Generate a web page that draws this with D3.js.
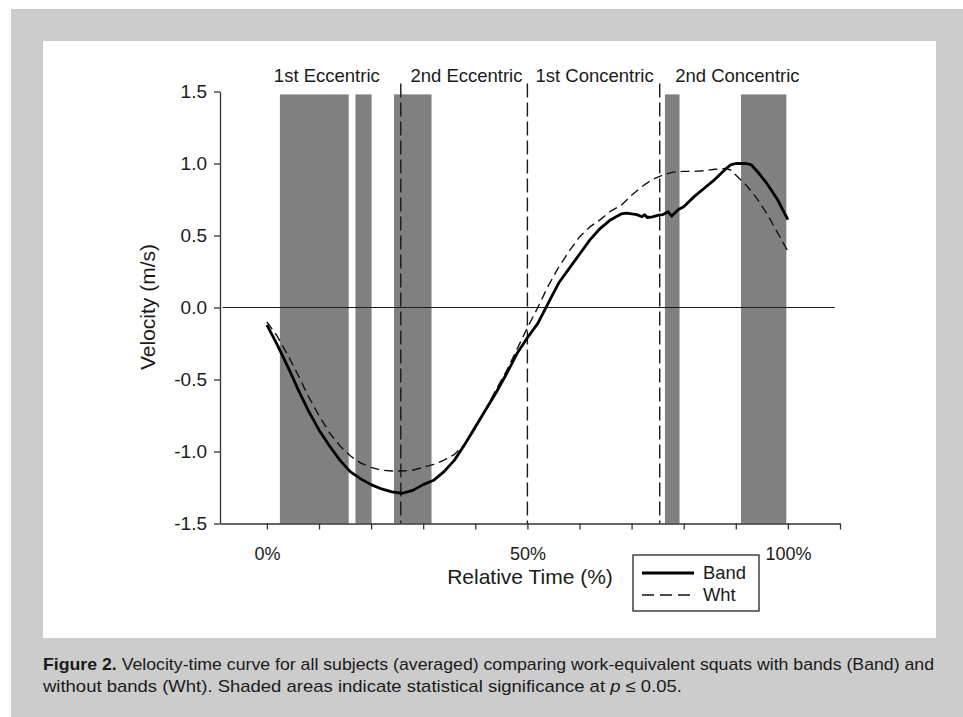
<!DOCTYPE html>
<html>
<head>
<meta charset="utf-8">
<script src="https://cdn.jsdelivr.net/npm/d3@7"></script>
<style>
  html, body { margin: 0; padding: 0; background: #ffffff; }
  svg { display: block; }
  text { font-family: "Liberation Sans", Arial, Helvetica, sans-serif; fill: #1a1a1a; }
</style>
</head>
<body>
<svg id="chart" width="963" height="717"></svg>
<script>
// ---------------- data ----------------
const timePct = [0, 2, 4, 6, 8, 10, 12, 14, 16, 18, 20, 22, 24, 26, 28, 30, 32, 34, 36, 38, 40, 42, 44, 46, 48, 50,
                 52, 54, 56, 58, 60, 62, 64, 66, 68, 69, 70, 71, 72, 72.5, 73, 74, 75, 76, 77, 77.7, 79, 80, 82, 84,
                 86, 88, 89, 90, 92, 93, 94, 96, 98, 100];
const bandVel = [-0.12, -0.26, -0.41, -0.57, -0.72, -0.85, -0.96, -1.06, -1.14, -1.19, -1.23, -1.26, -1.28, -1.29, -1.27, -1.23, -1.20, -1.14, -1.06, -0.95, -0.83, -0.71, -0.59, -0.46, -0.32, -0.21,
                 -0.11, 0.03, 0.17, 0.27, 0.37, 0.47, 0.55, 0.61, 0.65, 0.655, 0.65, 0.645, 0.63, 0.645, 0.625, 0.63, 0.64, 0.645, 0.665, 0.635, 0.68, 0.70, 0.77, 0.83,
                 0.89, 0.96, 0.99, 1.00, 1.00, 0.99, 0.95, 0.86, 0.75, 0.61];
const whtPct = [0, 2, 4, 6, 8, 10, 12, 14, 16, 18, 20, 22, 24, 26, 28, 30, 32, 34, 36, 38, 40, 42, 44, 46, 48, 50,
                52, 54, 56, 58, 60, 62, 64, 66, 68, 70, 72, 74, 76, 78, 80, 82, 84, 86, 88, 89, 90, 92, 94, 96, 98, 100];
const whtVel = [-0.10, -0.20, -0.33, -0.47, -0.62, -0.75, -0.87, -0.96, -1.03, -1.08, -1.11, -1.13, -1.135, -1.135, -1.13, -1.11, -1.09, -1.06, -1.02, -0.95, -0.84, -0.71, -0.57, -0.44, -0.29, -0.14,
                0.0, 0.15, 0.28, 0.39, 0.49, 0.56, 0.61, 0.67, 0.71, 0.78, 0.84, 0.89, 0.92, 0.94, 0.945, 0.945, 0.95, 0.96, 0.965, 0.955, 0.92, 0.85, 0.76, 0.65, 0.52, 0.39];

const sigStart = [2.5, 17.0, 24.4, 76.4, 91.0];   // shaded significance regions (% time)
const sigEnd   = [15.7, 20.1, 31.6, 79.2, 99.7];
const sigTop = 1.48;

const phaseLines = [25.7, 50, 75.4];
const phaseNames = ["1st Eccentric", "2nd Eccentric", "1st Concentric", "2nd Concentric"];
const phaseNameAt = [11.5, 38.3, 62.9, 90.3];

const yTicks = [-1.5, -1.0, -0.5, 0.0, 0.5, 1.0, 1.5];
const xTicks = [0, 10, 20, 30, 40, 50, 60, 70, 80, 90, 100, 110];
const xTickLabels = {0: "0%", 50: "50%", 100: "100%"};

const seriesNames = ["Band", "Wht"];
const captionBold = "Figure 2.";
const captionLine1 = " Velocity-time curve for all subjects (averaged) comparing work-equivalent squats with bands (Band) and";
const captionLine2a = "without bands (Wht). Shaded areas indicate statistical significance at ";
const captionLine2b = "p";
const captionLine2c = " \u2264 0.05.";

// ---------------- drawing ----------------
const svg = d3.select("#chart");

// figure background
svg.append("rect").attr("x", 11).attr("y", 9).attr("width", 952).attr("height", 708).attr("fill", "#cccccc");
svg.append("rect").attr("x", 43).attr("y", 41).attr("width", 893).attr("height", 597).attr("fill", "#ffffff");

const x = d3.scaleLinear().domain([-9, 110]).range([220, 840]);
const y = d3.scaleLinear().domain([-1.5, 1.5]).range([523.5, 91.5]);

// shaded regions
svg.append("g").selectAll("rect").data(sigStart.map((s, i) => [s, sigEnd[i]])).join("rect")
  .attr("x", d => x(d[0]))
  .attr("width", d => x(d[1]) - x(d[0]))
  .attr("y", y(sigTop))
  .attr("height", y(-1.5) - y(sigTop))
  .attr("fill", "#808080");

// zero line
svg.append("line")
  .attr("x1", x(-8.5)).attr("x2", x(109))
  .attr("y1", y(0)).attr("y2", y(0))
  .attr("stroke", "#1a1a1a").attr("stroke-width", 1.2);

// phase lines
svg.append("g").selectAll("line").data(phaseLines).join("line")
  .attr("x1", d => x(d)).attr("x2", d => x(d))
  .attr("y1", y(1.555)).attr("y2", y(-1.5))
  .attr("stroke", "#1a1a1a").attr("stroke-width", 1.4)
  .attr("stroke-dasharray", "14,5");

// curves
const line = d3.line().x(d => x(d[0])).y(d => y(d[1]));
svg.append("path")
  .datum(whtPct.map((t, i) => [t, whtVel[i]]))
  .attr("d", line).attr("fill", "none")
  .attr("stroke", "#111").attr("stroke-width", 1.4)
  .attr("stroke-dasharray", "9,5");
svg.append("path")
  .datum(timePct.map((t, i) => [t, bandVel[i]]))
  .attr("d", line).attr("fill", "none")
  .attr("stroke", "#000").attr("stroke-width", 2.8)
  .attr("stroke-linejoin", "round");

// axes
const yAxis = svg.append("g").attr("transform", `translate(${x(-9)},0)`)
  .call(d3.axisLeft(y).tickValues(yTicks).tickFormat(d => d.toFixed(1)).tickSize(6).tickSizeOuter(0).tickPadding(7));
yAxis.selectAll("text").style("font-size", "19px").attr("fill", "#1a1a1a");

const xAxis = svg.append("g").attr("transform", `translate(0,${y(-1.5)})`)
  .call(d3.axisBottom(x).tickValues(xTicks).tickFormat(d => xTickLabels[d] || "").tickSize(6).tickSizeOuter(0).tickPadding(18));
xAxis.selectAll("text").style("font-size", "18px").attr("fill", "#1a1a1a");

svg.selectAll(".domain, .tick line").attr("stroke", "#333").attr("stroke-width", 1.3);
svg.selectAll(".tick text").style("font-family", '"Liberation Sans", Arial, sans-serif');

// axis titles
svg.append("text")
  .attr("transform", `translate(155,307) rotate(-90)`)
  .attr("text-anchor", "middle")
  .style("font-size", "21px")
  .text("Velocity (m/s)");
svg.append("text")
  .attr("x", 530).attr("y", 584)
  .attr("text-anchor", "middle")
  .style("font-size", "21px")
  .text("Relative Time (%)");

// phase names
svg.append("g").selectAll("text").data(phaseNames).join("text")
  .attr("x", (d, i) => x(phaseNameAt[i]))
  .attr("y", 82)
  .attr("text-anchor", "middle")
  .style("font-size", "18.5px")
  .text(d => d);

// legend
const lg = svg.append("g");
lg.append("rect").attr("x", 633).attr("y", 555).attr("width", 126).attr("height", 56)
  .attr("fill", "#fff").attr("stroke", "#333").attr("stroke-width", 1.4);
lg.append("line").attr("x1", 642).attr("x2", 694).attr("y1", 573).attr("y2", 573)
  .attr("stroke", "#000").attr("stroke-width", 2.8);
lg.append("line").attr("x1", 642).attr("x2", 694).attr("y1", 595).attr("y2", 595)
  .attr("stroke", "#111").attr("stroke-width", 1.4).attr("stroke-dasharray", "12,6");
lg.selectAll("text.lab").data(seriesNames).join("text")
  .attr("class", "lab")
  .attr("x", 703).attr("y", (d, i) => 579 + i * 22)
  .style("font-size", "18.4px")
  .text(d => d);

// caption
const c1 = svg.append("text").attr("x", 43).attr("y", 670)
  .attr("textLength", 891).attr("lengthAdjust", "spacingAndGlyphs")
  .style("font-size", "17px");
c1.append("tspan").style("font-weight", "bold").text(captionBold);
c1.append("tspan").text(captionLine1);
const c2 = svg.append("text").attr("x", 43).attr("y", 692)
  .attr("textLength", 639).attr("lengthAdjust", "spacingAndGlyphs")
  .style("font-size", "17px");
c2.append("tspan").text(captionLine2a);
c2.append("tspan").style("font-style", "italic").text(captionLine2b);
c2.append("tspan").text(captionLine2c);
</script>
</body>
</html>
